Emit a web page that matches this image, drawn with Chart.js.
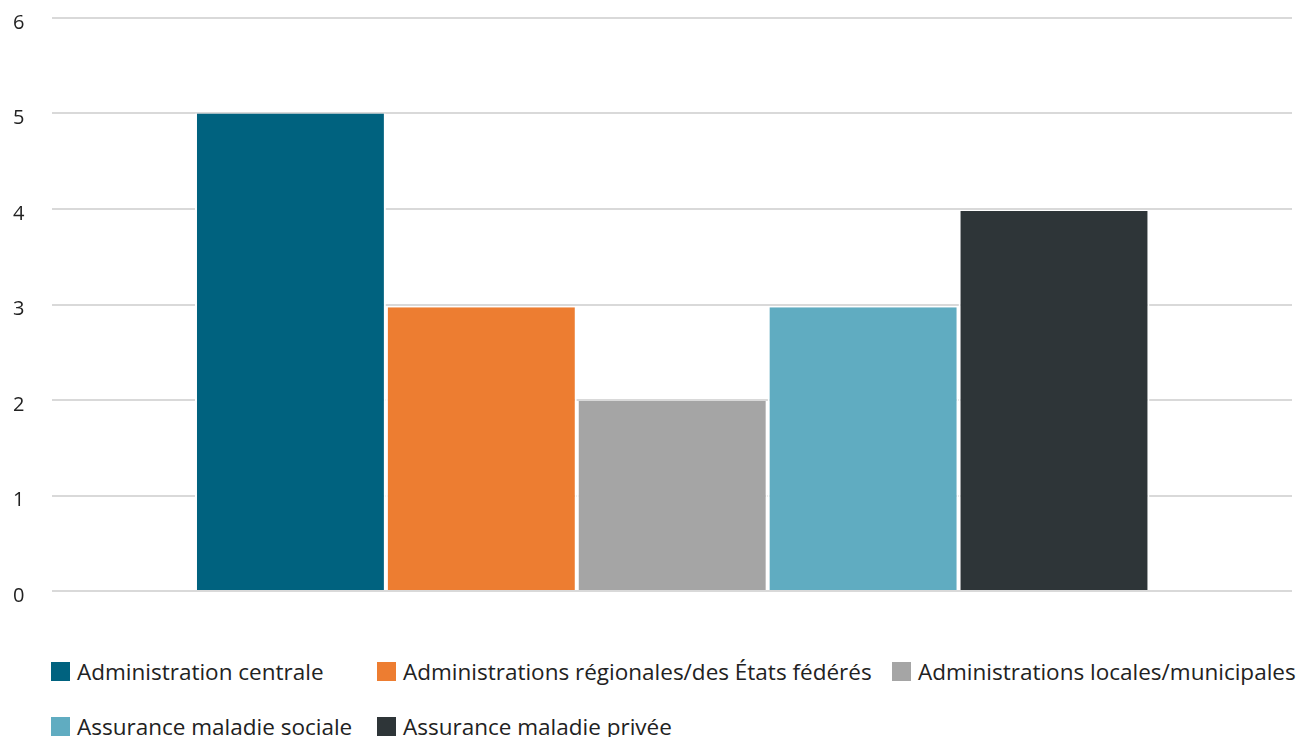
<!DOCTYPE html>
<html lang="fr">
<head>
<meta charset="utf-8">
<title>Dépenses de santé par régime de financement</title>
<script src="https://cdn.jsdelivr.net/npm/chart.js@4"></script>
<style>
  html, body { margin: 0; padding: 0; background: #fff; }
  body { width: 1298px; height: 737px; position: relative; overflow: hidden;
         font-family: "Open Sans", "Noto Sans", sans-serif; color: #222; }
  #wrap { position: absolute; left: 0; top: 0; width: 1298px; height: 612px; }
  #legend { position: absolute; left: 51px; top: 662px; display: grid;
            grid-template-columns: 326px 515px auto; row-gap: 36px; }
  .item { display: flex; align-items: center; height: 19px; white-space: nowrap; }
  .box { width: 19px; height: 19px; margin-right: 7px; flex: none; }
  .lbl { font-size: 22.5px; line-height: 19px; }
</style>
</head>
<body>
<div id="wrap"><canvas id="chart"></canvas></div>
<div id="legend"></div>
<script>
// Financing schemes and their values
const categories = [""];
const seriesNames = [
  "Administration centrale",
  "Administrations régionales/des États fédérés",
  "Administrations locales/municipales",
  "Assurance maladie sociale",
  "Assurance maladie privée"
];
const seriesValues = [5, 2.97, 1.99, 2.97, 3.98];
const seriesColors = ["#00627F", "#ED7D31", "#A5A5A5", "#60ACC1", "#2E3538"];
const yTicks = [0, 1, 2, 3, 4, 5, 6];

const datasets = seriesNames.map((name, i) => ({
  label: name,
  data: [seriesValues[i]],
  backgroundColor: seriesColors[i],
  borderColor: "#ffffff",
  borderWidth: { left: 2, right: 2, top: 0, bottom: 0 },
  borderSkipped: false,
  categoryPercentage: 0.77,
  barPercentage: 1
}));

const chart = new Chart(document.getElementById("chart"), {
  type: "bar",
  data: { labels: categories, datasets },
  options: {
    responsive: true,
    maintainAspectRatio: false,
    animation: false,
    // the axis adds room for its own labels, so the outer padding is trimmed
    layout: { padding: { top: 18, left: -15, right: 6, bottom: 21 } },
    plugins: { legend: { display: false }, tooltip: { enabled: false } },
    scales: {
      x: { display: false },
      y: {
        min: 0, max: 6,
        afterBuildTicks: (axis) => { axis.ticks = yTicks.map(v => ({ value: v })); },
        // vertical room is set by the layout padding alone
        afterFit: (axis) => { axis.paddingTop = 0; axis.paddingBottom = 0; },
        border: { display: false },
        grid: { color: "#d9d9d9", lineWidth: 2, drawTicks: false },
        ticks: {
          padding: 28,
          labelOffset: 5,
          color: "#222",
          font: { family: "'Open Sans', 'Noto Sans', sans-serif", size: 20 }
        }
      }
    }
  }
});

// Legend laid out in columns below the plot
const legend = document.getElementById("legend");
seriesNames.forEach((name, i) => {
  const item = document.createElement("div");
  item.className = "item";
  const box = document.createElement("span");
  box.className = "box";
  box.style.background = seriesColors[i];
  const lbl = document.createElement("span");
  lbl.className = "lbl";
  lbl.textContent = name;
  item.appendChild(box);
  item.appendChild(lbl);
  legend.appendChild(item);
});
</script>
</body>
</html>
